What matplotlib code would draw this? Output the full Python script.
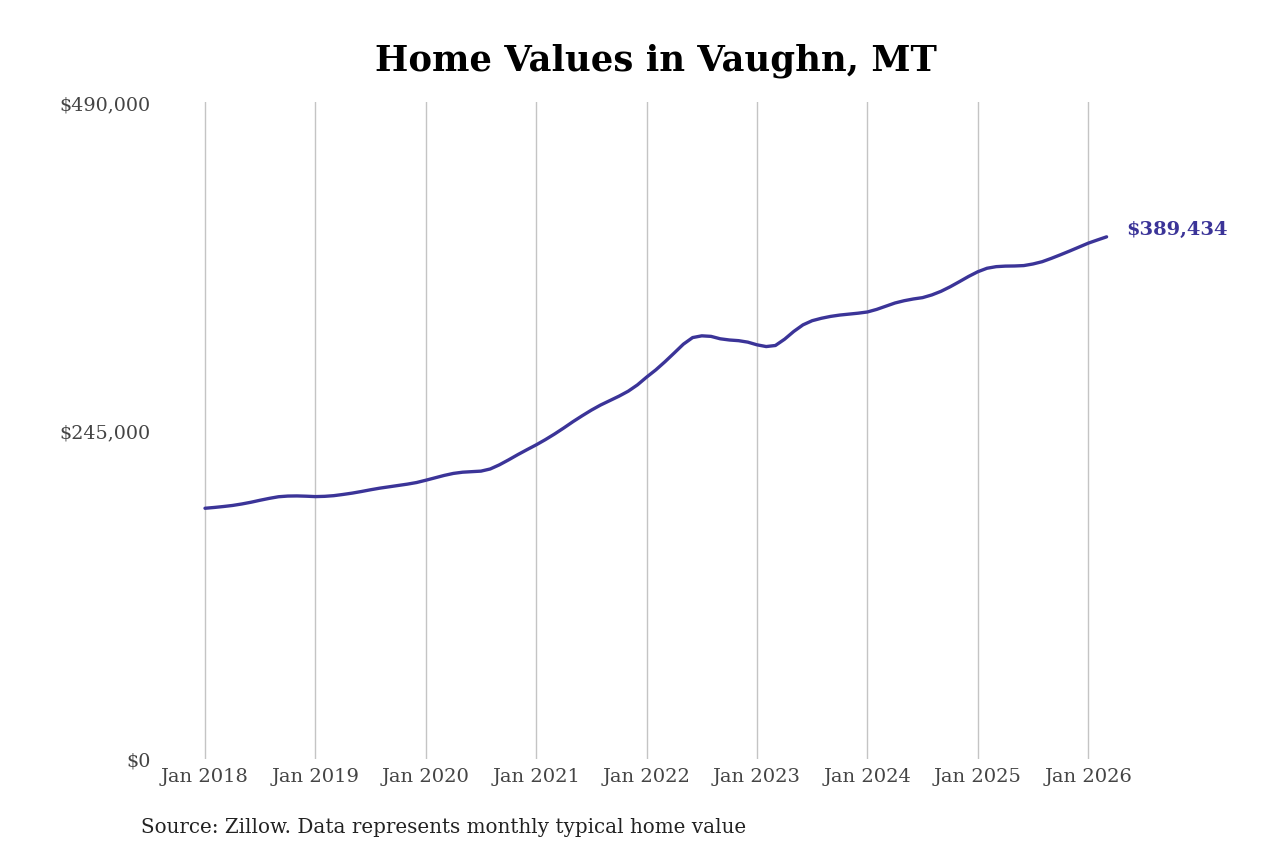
import matplotlib
matplotlib.use("Agg")
import matplotlib.pyplot as plt

# monthly typical home value, Jan 2018 .. Mar 2026
start_year = 2018
values = [
    187000, 187600, 188300, 189100, 190200, 191500, 193000, 194400, 195600, 196100, 196200, 196000,  # 2018
    195700, 195900, 196400, 197300, 198300, 199500, 200800, 202000, 203000, 204000, 205000, 206200,  # 2019
    207900, 209700, 211500, 213000, 213900, 214300, 214700, 216300, 219400, 223100, 227000, 230700,  # 2020
    234300, 238200, 242400, 246900, 251600, 256000, 260200, 264000, 267300, 270600, 274300, 279000,  # 2021
    284800, 290200, 296300, 302800, 309400, 314300, 315600, 315200, 313400, 312500, 312000, 310900,  # 2022
    308900, 307600, 308400, 313100, 318900, 323800, 326900, 328700, 330100, 331100, 331800, 332500,  # 2023
    333400, 335300, 337700, 340100, 341800, 343100, 344100, 346100, 348800, 352200, 356000, 359900,  # 2024
    363400, 366000, 367200, 367600, 367700, 368000, 369200, 370900, 373400, 376100, 378900, 381800,  # 2025
    384700, 387100, 389434,                                                                          # 2026
]
tick_years = [2018, 2019, 2020, 2021, 2022, 2023, 2024, 2025, 2026]
tick_labels = ["Jan %d" % y for y in tick_years]
y_ticks = [0, 245000, 490000]
y_labels = ["$0", "$245,000", "$490,000"]

title = "Home Values in Vaughn, MT"
source = "Source: Zillow. Data represents monthly typical home value"
line_color = "#3b3498"

x = [start_year + i / 12 for i in range(len(values))]

plt.rcParams["font.family"] = ["DejaVu Serif"]

fig = plt.figure(figsize=(12.8, 8.53), dpi=100)
ax = fig.add_axes([160 / 1280, 1 - 760 / 853, 950 / 1280, 657 / 853])

ax.plot(x, values, color=line_color, lw=2.4, solid_capstyle="round", zorder=3)

ax.set_xlim(start_year - 45 / 110.4, start_year + 905 / 110.4)
ax.set_ylim(0, 490000)
ax.set_xticks(tick_years)
ax.set_xticklabels(tick_labels)
ax.set_yticks(y_ticks)
ax.set_yticklabels(y_labels)
ax.tick_params(axis="x", length=0, pad=6, labelsize=14, labelcolor="#444444")
ax.tick_params(axis="y", length=0, pad=7, labelsize=13.8, labelcolor="#444444")
ax.grid(axis="x", color="#c4c4c4", lw=1)
ax.grid(axis="y", visible=False)
for s in ax.spines.values():
    s.set_visible(False)

# label at the end of the line
ax.annotate("${:,}".format(values[-1]), (x[-1], values[-1]), xytext=(14.3, 6),
            textcoords="offset points", color=line_color, fontsize=14,
            fontweight="bold", va="center", ha="left", annotation_clip=False)

fig.text(656 / 1280, 1 - 61 / 853, title, ha="center", va="center",
         fontsize=25.5, fontweight="bold")
fig.text(141 / 1280, 1 - 828 / 853, source, ha="left", va="center",
         fontsize=14.3, color="#222222")

fig.savefig("out.png", dpi=100)
